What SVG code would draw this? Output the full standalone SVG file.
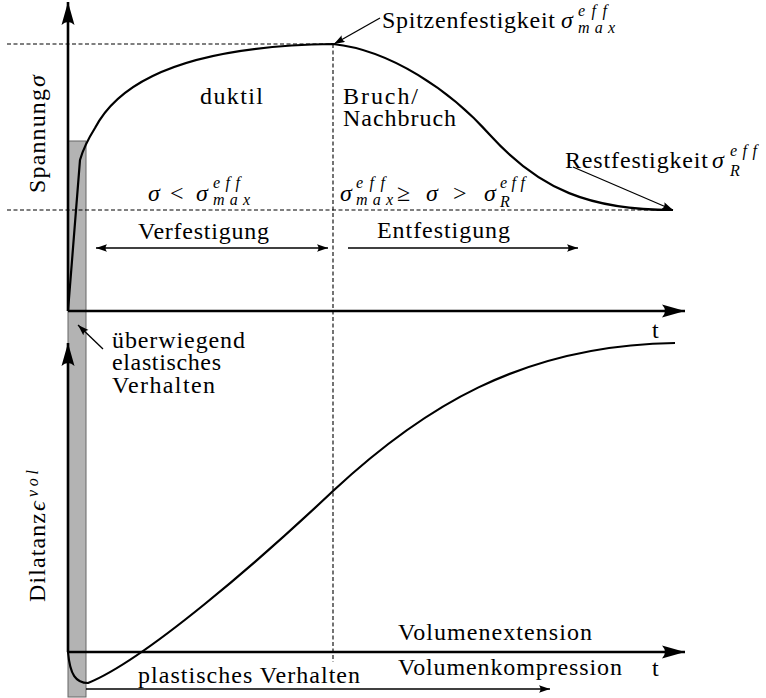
<svg xmlns="http://www.w3.org/2000/svg" width="766" height="698" viewBox="0 0 766 698">
<defs>
<marker id="big" markerUnits="userSpaceOnUse" markerWidth="24" markerHeight="15" refX="23" refY="7" orient="auto">
<path d="M23,7 L0,0.5 Q6,7 0,13.5 Z" fill="#000"/>
</marker>
<marker id="sm" markerUnits="userSpaceOnUse" markerWidth="12" markerHeight="8" refX="11" refY="3.75" orient="auto-start-reverse">
<path d="M11,3.75 L0,0 Q3,3.75 0,7.5 Z" fill="#000"/>
</marker>
</defs>
<rect width="766" height="698" fill="#fff"/>

<g id="elastic-band">
<rect x="68" y="141" width="18" height="556" fill="#b3b3b3" stroke="#666" stroke-width="1"/>
</g>

<g id="guides" stroke="#000" stroke-width="1.1" stroke-dasharray="4 2.5" fill="none">
<line x1="7" y1="44" x2="333" y2="44"/>
<line x1="7" y1="210" x2="673" y2="210"/>
<line x1="333" y1="44" x2="333" y2="662"/>
</g>

<g id="axes" stroke="#000" stroke-width="2.6" fill="none">
<line x1="68" y1="311" x2="68" y2="2" marker-end="url(#big)"/>
<line x1="68" y1="311" x2="685" y2="311" marker-end="url(#big)"/>
<line x1="68" y1="652" x2="68" y2="343" marker-end="url(#big)"/>
<line x1="68" y1="652" x2="685" y2="652" marker-end="url(#big)"/>
</g>

<g id="curves" stroke="#000" stroke-width="2.2" fill="none">
<path d="M68,311 L80,160 C84,146 90,136 95,128 C120,80 190,46 333,44 C390,50 450,90 490,135 C540,190 590,210 673,210"/>
<path d="M68,652 C70,675 76,683 88,683 C145,660 260,560 333,491 C420,410 520,345 675,343"/>
</g>

<g id="connectors" stroke="#000" stroke-width="1.3" fill="none">
<line x1="380" y1="18" x2="334" y2="44" marker-end="url(#sm)"/>
<line x1="573" y1="167" x2="673" y2="210" marker-end="url(#sm)"/>
<line x1="103" y1="349" x2="78" y2="325" marker-end="url(#sm)"/>
<line x1="96" y1="248" x2="328" y2="248" marker-start="url(#sm)" marker-end="url(#sm)"/>
<line x1="348" y1="248" x2="578" y2="248" marker-end="url(#sm)"/>
<line x1="86" y1="689" x2="550" y2="689" marker-end="url(#sm)"/>
</g>

<g id="label-spitze">
<text font-family="Liberation Serif" font-size="24" x="382" y="28" textLength="173">Spitzenfestigkeit</text>
<text font-family="Liberation Serif" font-size="24" font-style="italic" x="561" y="28">σ</text>
<text font-family="Liberation Serif" font-size="16" font-style="italic" x="578" y="16" textLength="29">eff</text>
<text font-family="Liberation Serif" font-size="16" font-style="italic" x="578" y="33" textLength="37">max</text>
</g>

<g id="label-rest">
<text font-family="Liberation Serif" font-size="24" x="565" y="168" textLength="143">Restfestigkeit</text>
<text font-family="Liberation Serif" font-size="24" font-style="italic" x="712" y="168">σ</text>
<text font-family="Liberation Serif" font-size="16" font-style="italic" x="730" y="156" textLength="27">eff</text>
<text font-family="Liberation Serif" font-size="16" font-style="italic" x="730" y="176">R</text>
</g>

<g id="label-duktil"><text font-family="Liberation Serif" font-size="24" x="200" y="104" textLength="63">duktil</text></g>
<g id="label-bruch">
<text font-family="Liberation Serif" font-size="24" x="343" y="104" textLength="75">Bruch/</text>
<text font-family="Liberation Serif" font-size="24" x="343" y="126" textLength="113">Nachbruch</text>
</g>

<g id="label-cond1">
<text font-family="Liberation Serif" font-size="24" font-style="italic" x="148" y="201">σ</text>
<text font-family="Liberation Serif" font-size="24" x="170" y="201">&lt;</text>
<text font-family="Liberation Serif" font-size="24" font-style="italic" x="196" y="201">σ</text>
<text font-family="Liberation Serif" font-size="16" font-style="italic" x="213" y="188" textLength="27">eff</text>
<text font-family="Liberation Serif" font-size="16" font-style="italic" x="213" y="205" textLength="37">max</text>
</g>

<g id="label-cond2">
<text font-family="Liberation Serif" font-size="24" font-style="italic" x="340" y="201">σ</text>
<text font-family="Liberation Serif" font-size="16" font-style="italic" x="356" y="188" textLength="29">eff</text>
<text font-family="Liberation Serif" font-size="16" font-style="italic" x="356" y="205" textLength="37">max</text>
<text font-family="Liberation Serif" font-size="24" x="397" y="201">≥</text>
<text font-family="Liberation Serif" font-size="24" font-style="italic" x="426" y="201">σ</text>
<text font-family="Liberation Serif" font-size="24" x="453" y="201">&gt;</text>
<text font-family="Liberation Serif" font-size="24" font-style="italic" x="484" y="201">σ</text>
<text font-family="Liberation Serif" font-size="16" font-style="italic" x="500" y="188" textLength="25">eff</text>
<text font-family="Liberation Serif" font-size="16" font-style="italic" x="500" y="207">R</text>
</g>

<g id="label-verfestigung"><text font-family="Liberation Serif" font-size="24" x="138" y="239" textLength="131">Verfestigung</text></g>
<g id="label-entfestigung"><text font-family="Liberation Serif" font-size="24" x="377" y="238" textLength="133">Entfestigung</text></g>

<g id="label-elastisch">
<text font-family="Liberation Serif" font-size="24" x="112" y="348" textLength="133">überwiegend</text>
<text font-family="Liberation Serif" font-size="24" x="112" y="370" textLength="109">elastisches</text>
<text font-family="Liberation Serif" font-size="24" x="112" y="393" textLength="103">Verhalten</text>
</g>

<g id="label-plastisch"><text font-family="Liberation Serif" font-size="24" x="138" y="683" textLength="222">plastisches Verhalten</text></g>
<g id="label-extension"><text font-family="Liberation Serif" font-size="24" x="398" y="640" textLength="194">Volumenextension</text></g>
<g id="label-kompression"><text font-family="Liberation Serif" font-size="24" x="398" y="675" textLength="224">Volumenkompression</text></g>
<g id="label-t1"><text font-family="Liberation Serif" font-size="24" x="652" y="338">t</text></g>
<g id="label-t2"><text font-family="Liberation Serif" font-size="24" x="652" y="676">t</text></g>

<g id="label-spannung" transform="translate(45,193) rotate(-90)">
<text font-family="Liberation Serif" font-size="24" x="0" y="0" textLength="104">Spannung</text>
<text font-family="Liberation Serif" font-size="24" font-style="italic" x="106" y="0">σ</text>
</g>

<g id="label-dilatanz" transform="translate(45,602) rotate(-90)">
<text font-family="Liberation Serif" font-size="24" x="0" y="0" textLength="89">Dilatanz</text>
<text font-family="Liberation Serif" font-size="24" font-style="italic" x="91" y="0">ϵ</text>
<text font-family="Liberation Serif" font-size="16" font-style="italic" x="105" y="-7" textLength="27">vol</text>
</g>
</svg>
